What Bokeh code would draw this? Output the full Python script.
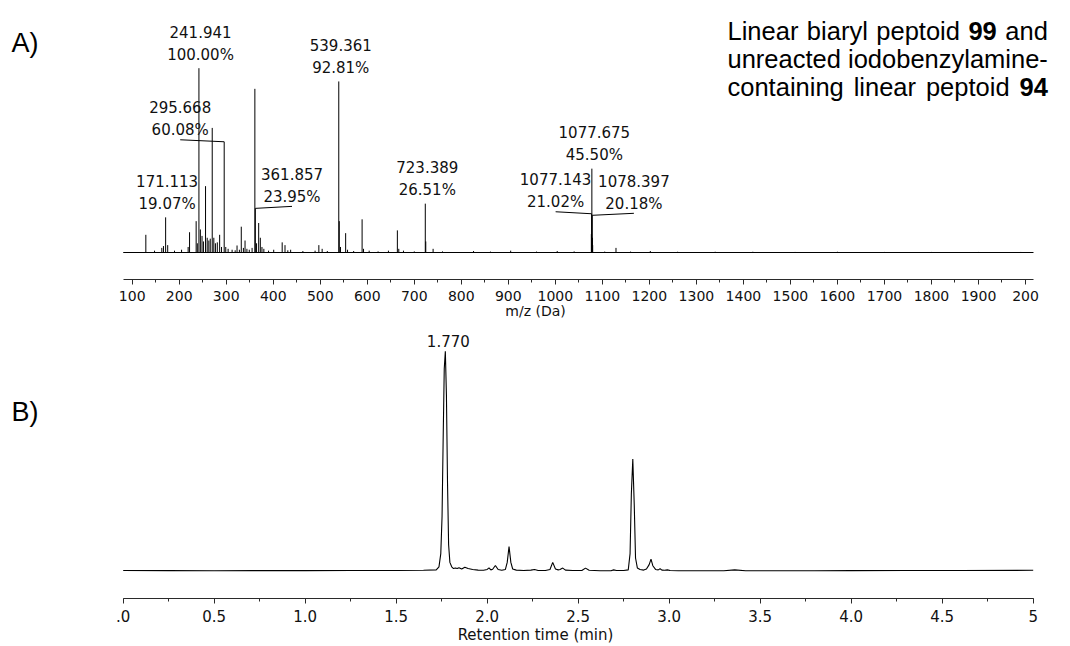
from bokeh.plotting import figure
from bokeh.layouts import column
from bokeh.models import ColumnDataSource, Label, SingleIntervalTicker, Range1d, NumeralTickFormatter
from bokeh.embed import file_html
from bokeh.resources import INLINE
from bokeh.core.properties import value

# ---------------- data: (A) mass spectrum, relative intensity % ----------------
ms_mz = [129.0, 147.5, 163.0, 166.5, 171.113, 175.5, 190.0, 205.0, 219.0, 222.0,
         236.0, 238.5, 241.941, 245.0, 248.5, 251.5, 256.0, 259.5, 263.0, 266.0,
         270.2, 273.6, 277.0, 281.0, 286.0, 290.0, 295.668, 299.0, 304.0, 312.5,
         319.0, 323.0, 328.0, 332.0, 336.5, 340.0, 344.0, 349.0, 355.0, 360.9,
         361.857, 364.5, 369.0, 372.5, 376.0, 380.0, 390.0, 401.0, 419.0, 425.0,
         431.0, 437.0, 463.0, 489.0, 497.0, 504.0, 515.0, 539.361, 540.4, 543.0,
         554.0, 558.0, 571.0, 589.0, 592.0, 604.0, 623.0, 645.0, 664.0, 667.0,
         677.0, 700.0, 723.389, 724.4, 740.0, 760.0, 826.0, 862.0, 905.0, 960.0,
         1004.0, 1040.0, 1076.6, 1077.143, 1077.675, 1078.397, 1078.9, 1079.4, 1105.0, 1129.0,
         1160.0, 1202.0, 1260.0, 1340.0, 1420.0, 1510.0, 1600.0, 1700.0, 1800.0, 1900.0,
         1990.0]
ms_rel = [9.6, 1.0, 2.5, 3.5, 19.07, 4.0, 1.0, 1.5, 3.0, 11.0,
          17.0, 5.0, 100.0, 12.5, 9.0, 6.0, 36.0, 8.0, 6.5, 7.5,
          67.6, 8.0, 5.0, 5.5, 9.6, 3.0, 60.08, 3.0, 2.0, 1.5,
          1.2, 3.8, 1.5, 14.0, 2.5, 6.5, 2.0, 1.5, 2.5, 88.8,
          23.95, 5.0, 16.0, 8.0, 3.0, 2.0, 1.0, 1.5, 5.5, 4.0,
          1.2, 1.5, 0.8, 1.0, 4.0, 2.0, 0.8, 92.81, 17.0, 3.0,
          10.5, 1.5, 0.8, 18.0, 2.0, 1.0, 0.6, 1.0, 12.0, 2.0,
          1.0, 0.6, 26.51, 6.0, 2.0, 0.6, 0.8, 0.5, 1.0, 0.5,
          0.8, 0.6, 10.0, 21.02, 45.5, 20.18, 8.0, 4.0, 0.5, 2.5,
          0.5, 0.8, 0.4, 0.4, 0.4, 0.3, 0.4, 0.3, 0.3, 0.3,
          0.3]

ann_mz = [171.113, 241.941, 295.668, 361.857, 539.361, 723.389, 1077.675, 1077.143, 1078.397]
ann_rel = [19.07, 100.00, 60.08, 23.95, 92.81, 26.51, 45.50, 21.02, 20.18]

# ---------------- data: (B) chromatogram, relative absorbance % ----------------
rt_min = [0.00, 0.25, 0.50, 0.75, 1.00, 1.25, 1.50, 1.65, 1.72, 1.735,
          1.745, 1.752, 1.758, 1.764, 1.770, 1.776, 1.782, 1.788, 1.795, 1.805,
          1.815, 1.825, 1.835, 1.845, 1.860, 1.877, 1.895, 1.92, 1.95, 1.98,
          2.00, 2.01, 2.02, 2.03, 2.045, 2.06, 2.08, 2.10, 2.11, 2.12,
          2.13, 2.14, 2.16, 2.20, 2.24, 2.26, 2.28, 2.32, 2.345, 2.36,
          2.375, 2.39, 2.40, 2.415, 2.43, 2.47, 2.52, 2.54, 2.56, 2.62,
          2.68, 2.695, 2.71, 2.75, 2.775, 2.785, 2.792, 2.80, 2.808, 2.815,
          2.825, 2.84, 2.86, 2.875, 2.89, 2.90, 2.91, 2.925, 2.94, 2.95,
          2.96, 2.975, 2.99, 3.005, 3.05, 3.15, 3.30, 3.36, 3.42, 3.6,
          3.8, 4.0, 4.3, 4.6, 5.0]
uv_rel = [0.3, 0.25, 0.2, 0.25, 0.25, 0.3, 0.35, 0.4, 0.6, 2.0,
          8.0, 25.0, 60.0, 92.0, 100.0, 80.0, 40.0, 12.0, 4.0, 2.0,
          1.2, 1.5, 1.2, 1.6, 1.0, 1.8, 1.2, 0.8, 0.5, 0.4,
          0.8, 1.5, 0.6, 0.9, 2.6, 0.8, 0.4, 0.8, 4.0, 11.2,
          4.0, 1.0, 0.5, 0.3, 0.5, 0.8, 0.3, 0.3, 0.8, 4.0,
          1.0, 0.6, 0.8, 1.4, 0.5, 0.3, 0.3, 1.4, 0.4, 0.2,
          0.2, 0.6, 0.3, 0.3, 0.6, 8.0, 35.0, 51.0, 30.0, 6.0,
          1.5, 0.8, 0.5, 1.0, 3.0, 5.5, 2.5, 0.8, 0.6, 1.1,
          0.5, 0.4, 0.6, 0.3, 0.2, 0.2, 0.2, 0.6, 0.2, 0.2,
          0.2, 0.25, 0.3, 0.35, 0.4]
lc_apex_rt = [1.770]
lc_apex_rel = [100.0]

ms_axis_bounds = (80.9, 2017.0)
lc_axis_bounds = (0.0, 5.0)
ms_tick_overrides = {2000: "200"}
lc_tick_overrides = {0: ".0", 5: "5"}

title_lines = [["Linear", "biaryl", "peptoid", "99", "and"],
               ["unreacted", "iodobenzylamine-"],
               ["containing", "linear", "peptoid", "94"]]

# ---------------- layout (page pixels; page origin = canvas origin) ----------------
FONT = "DejaVu Sans"
SANS = "Liberation Sans"
W = 1070
# panel A : frame y 0..279, spectrum baseline at y=252, 100 % at y=67.7
A_H, A_BOT = 325, 46
A_FH = A_H - A_BOT
KX_A = (1025.0 - 131.7) / 1900.0       # px per Da
A_X0 = 100 - 131.7 / KX_A
A_X1 = A_X0 + W / KX_A
KY_A = 252.0 - 67.7                    # px per 100 %
A_Y1 = 252.0 / KY_A * 100
A_Y0 = -(A_FH - 252.0) / KY_A * 100
# panel B : frame y 325..598, baseline 570.7, 100 % at 350.7
B_H, B_BOT = 321, 48
B_TOP = A_H
B_FH = B_H - B_BOT
KX_B = 182.0                           # px per min
B_X0 = -122.7 / KX_B
B_X1 = B_X0 + W / KX_B
KY_B = 220.0
B_Y1 = (570.7 - B_TOP) / KY_B * 100
B_Y0 = -(B_TOP + B_FH - 570.7) / KY_B * 100


def ax(px):
    return A_X0 + px / KX_A


def ay(py):
    return A_Y1 - py / KY_A * 100


def bx(px):
    return B_X0 + px / KX_B


def by(py):
    return B_Y1 - (py - B_TOP) / KY_B * 100


AXCOL = "#2a2a2a"


def style_axis(axis, size):
    axis.axis_line_color = AXCOL
    axis.major_tick_line_color = AXCOL
    axis.minor_tick_line_color = AXCOL
    axis.major_tick_in = 0
    axis.major_tick_out = 5
    axis.minor_tick_in = 0
    axis.minor_tick_out = 3
    axis.major_label_text_font = FONT
    axis.major_label_text_font_size = size
    axis.major_label_text_color = "#111111"
    axis.major_label_standoff = 6
    axis.axis_label_text_font = FONT
    axis.axis_label_text_font_style = "normal"
    axis.axis_label_text_color = "#111111"
    axis.axis_label_text_font_size = size


# ---------------- panel A ----------------
pA = figure(width=W, height=A_H, x_range=Range1d(A_X0, A_X1), y_range=Range1d(A_Y0, A_Y1),
            output_backend="svg", toolbar_location=None, y_axis_location=None,
            min_border_left=0, min_border_right=0, min_border_top=0, min_border_bottom=A_BOT)
pA.outline_line_color = None
pA.grid.visible = False
xa = pA.xaxis[0]
xa.ticker = SingleIntervalTicker(interval=100, num_minor_ticks=2)
xa.major_label_overrides = ms_tick_overrides
xa.bounds = ms_axis_bounds
xa.axis_label = "m/z (Da)"
style_axis(xa, "14px")
xa.axis_label_standoff = -1

# spectrum baseline and sticks
pA.segment(x0=[ms_axis_bounds[0]], y0=[0], x1=[ms_axis_bounds[1]], y1=[0], line_color="black", line_width=1)
ms_src = ColumnDataSource(dict(mz=ms_mz, rel=ms_rel, zero=[0.0] * len(ms_mz)))
pA.segment(x0="mz", y0="zero", x1="mz", y1="rel", source=ms_src, line_color="black", line_width=1)

# peak annotations: label-centre offset (px) and whether a leader line is used
ann_dx_px = [1.5, 1.6, -44.0, 36.7, 2.0, 2.0, 2.5, -36.0, 41.7]
ann_leader = [False, False, True, True, False, False, False, True, True]
mz_per_px = 1 / KX_A
pct_per_px = 100 / KY_A
lab_x, lab_y, lab_t = [], [], []
ld_x0, ld_y0, ld_x1, ld_y1 = [], [], [], []
for m, r, dx, ld in zip(ann_mz, ann_rel, ann_dx_px, ann_leader):
    lx = m + dx * mz_per_px
    if ld:
        ly_end = r + 2.0 * pct_per_px
        ld_x0.append(m); ld_y0.append(r); ld_x1.append(lx); ld_y1.append(ly_end)
        ly = ly_end + 0.5 * pct_per_px
    else:
        ly = r + 4.5 * pct_per_px
    lab_x.append(lx); lab_y.append(ly)
    lab_t.append(f"{m:.3f}\n{r:.2f}%")
pA.segment(x0=ld_x0, y0=ld_y0, x1=ld_x1, y1=ld_y1, line_color="black", line_width=1)
pA.text(x=lab_x, y=lab_y, text=lab_t, text_align="center", text_baseline="bottom",
        text_font=value(FONT), text_font_size="15px", text_color="#111111",
        text_line_height=1.21)

# descriptive title: right edges aligned (lines 1 and 3 justified), bold compound numbers
TS = 25.5
AW = {' ': .278, '-': .333, 'a': .556, 'b': .556, 'c': .5, 'd': .556, 'e': .556, 'g': .556,
      'i': .222, 'l': .222, 'm': .833, 'n': .556, 'o': .556, 'p': .556, 'r': .333, 't': .278,
      'u': .556, 'y': .5, 'z': .5, 'L': .556, '9': .556, '4': .556}


def tw(s):
    return sum(AW.get(c, .556) for c in s) * TS


TX0 = 727.0
TX1 = TX0 + tw(" ".join(title_lines[1]))
for words, cy in zip(title_lines, (30.0, 58.3, 86.6)):
    total = sum(tw(w) for w in words)
    gap = (TX1 - TX0 - total) / (len(words) - 1)
    x = TX0
    for w in words:
        pA.add_layout(Label(x=ax(x), y=ay(cy), text=w, text_font=SANS,
                            text_font_size=f"{TS}px", text_baseline="middle",
                            text_font_style="bold" if w.isdigit() else "normal",
                            text_color="black"))
        x += tw(w) + gap

pA.add_layout(Label(x=ax(11), y=ay(42), text="A)", text_font=SANS, text_font_size="27px",
                    text_baseline="middle", text_color="black"))

# ---------------- panel B ----------------
pB = figure(width=W, height=B_H, x_range=Range1d(B_X0, B_X1), y_range=Range1d(B_Y0, B_Y1),
            output_backend="svg", toolbar_location=None, y_axis_location=None,
            min_border_left=0, min_border_right=0, min_border_top=0, min_border_bottom=B_BOT)
pB.outline_line_color = None
pB.grid.visible = False
xb = pB.xaxis[0]
xb.ticker = SingleIntervalTicker(interval=0.5, num_minor_ticks=2)
xb.formatter = NumeralTickFormatter(format="0.0")
xb.major_label_overrides = lc_tick_overrides
xb.bounds = lc_axis_bounds
xb.axis_label = "Retention time (min)"
style_axis(xb, "15px")
xb.axis_label_standoff = 1

pB.line(x=rt_min, y=uv_rel, line_color="black", line_width=1.1)
pB.text(x=[t + 3 / KX_B for t in lc_apex_rt], y=[v + 10.7 / KY_B * 100 for v in lc_apex_rel],
        text=[f"{t:.3f}" for t in lc_apex_rt], text_align="center", text_baseline="middle",
        text_font=value(FONT), text_font_size="15px", text_color="#111111")

pB.add_layout(Label(x=bx(11), y=by(411), text="B)", text_font=SANS, text_font_size="27px",
                    text_baseline="middle", text_color="black"))

layout = column(pA, pB)
open("out.html", "w").write(file_html(layout, INLINE))
